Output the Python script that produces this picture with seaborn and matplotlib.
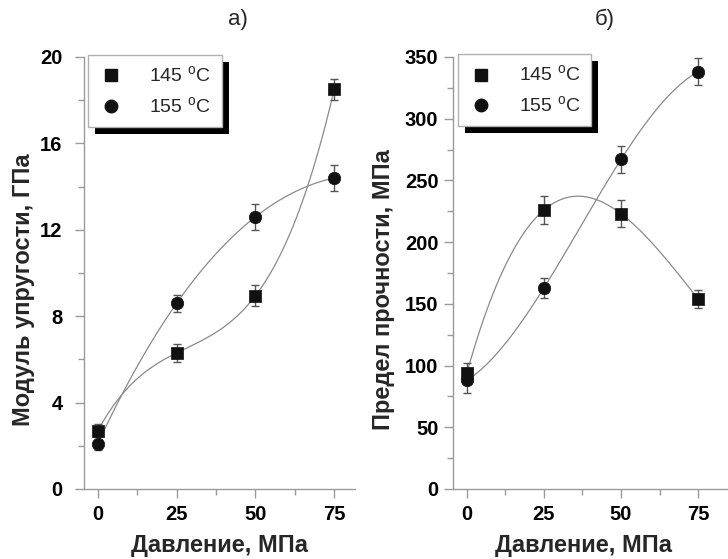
import numpy as np
import pandas as pd
import matplotlib
matplotlib.use("Agg")
import matplotlib.pyplot as plt
import seaborn as sns
from matplotlib.lines import Line2D
from matplotlib.patches import Rectangle
from matplotlib.ticker import MultipleLocator

# ---- data ----
pressure = [0, 25, 50, 75]
series_labels = ["145 $^{\\mathrm{o}}$C", "155 $^{\\mathrm{o}}$C"]

modulus_145 = [2.7, 6.3, 8.95, 18.5]
modulus_145_err = [0.3, 0.4, 0.5, 0.5]
modulus_155 = [2.1, 8.6, 12.6, 14.4]
modulus_155_err = [0.3, 0.4, 0.6, 0.6]

strength_145 = [94, 226, 223, 154]
strength_145_err = [8, 11, 11, 7]
strength_155 = [88, 163, 267, 338]
strength_155_err = [10, 8, 11, 11]

panel_titles = ["а)", "б)"]
x_label = "Давление, МПа"
y_labels = ["Модуль упругости, ГПа", "Предел прочности, МПа"]

sns.set_style("ticks")
plt.rcParams["font.family"] = ["Liberation Sans", "DejaVu Sans"]
plt.rcParams["mathtext.fontset"] = "custom"
plt.rcParams["mathtext.rm"] = "Liberation Sans"

fig = plt.figure(figsize=(7.28, 5.59), dpi=100)
W, H = 728, 559
ax1 = fig.add_axes([84 / W, 1 - 489 / H, (355 - 84) / W, (489 - 57) / H])
ax2 = fig.add_axes([453 / W, 1 - 489 / H, (728 - 453) / W, (489 - 57) / H])

spine_c = "#9a9a9a"
line_c = "#8a8a8a"
err_c = "#555555"

def draw_panel(ax, y145, e145, y155, e155, ylim, ymajor, xlim, ylabel, ypad,
               ylab_x, xlab_x, leg_anchor):
    for yv, ev, mk in [(y145, e145, "s"), (y155, e155, "o")]:
        df = pd.DataFrame({"x": pressure, "y": yv})
        sns.regplot(data=df, x="x", y="y", order=3, ci=None, scatter=False, ax=ax,
                    truncate=True, line_kws=dict(color=line_c, lw=0.9, zorder=2))
        ax.errorbar(pressure, yv, yerr=ev, fmt="none", ecolor=err_c, elinewidth=1,
                    capsize=3, capthick=1, zorder=3)
        sns.scatterplot(data=df, x="x", y="y", marker=mk, s=80, color="#111111",
                        edgecolor="#111111", linewidth=0.5, ax=ax, zorder=4)
    ax.set_xlim(*xlim)
    ax.set_ylim(*ylim)
    ax.xaxis.set_major_locator(MultipleLocator(25))
    ax.xaxis.set_minor_locator(MultipleLocator(12.5))
    ax.yaxis.set_major_locator(MultipleLocator(ymajor))
    ax.yaxis.set_minor_locator(MultipleLocator(ymajor / 2))
    for s in ["top", "right"]:
        ax.spines[s].set_visible(False)
    for s in ["left", "bottom"]:
        ax.spines[s].set_color(spine_c)
        ax.spines[s].set_linewidth(1)
    ax.tick_params(which="major", direction="out", length=6.5, width=1, color=spine_c,
                   labelsize=14.5, labelcolor="black")
    ax.tick_params(axis="x", which="major", pad=5)
    ax.tick_params(axis="y", which="major", pad=ypad)
    ax.tick_params(which="minor", direction="out", length=4, width=1, color=spine_c)
    for lab in ax.get_xticklabels() + ax.get_yticklabels():
        lab.set_fontweight("bold")
    ax.set_xlabel(x_label, fontsize=17, fontweight="bold")
    ax.set_ylabel(ylabel, fontsize=17, fontweight="bold")
    ax.xaxis.set_label_coords(xlab_x, -0.13)
    ax.yaxis.set_label_coords(ylab_x, 0.462)
    ax.xaxis.label.set_va("center")
    ax.yaxis.label.set_va("center")
    handles = [Line2D([], [], ls="none", marker="s", ms=8, color="#111111"),
               Line2D([], [], ls="none", marker="o", ms=9, color="#111111")]
    leg = ax.legend(handles, series_labels, loc="upper left", bbox_to_anchor=leg_anchor,
                    frameon=True, fancybox=False, framealpha=1, edgecolor="#b0b0b0",
                    fontsize=14, handletextpad=1.3, borderpad=0.55, labelspacing=0.5,
                    handlelength=1.3, borderaxespad=0)
    leg.get_frame().set_linewidth(1)
    leg.set_zorder(10)
    return leg

leg1 = draw_panel(ax1, modulus_145, modulus_145_err, modulus_155, modulus_155_err,
                  (0, 20), 4, (-4.4, 81.6), y_labels[0], 9, -0.225, 0.5, (0.015, 1.005))
leg2 = draw_panel(ax2, strength_145, strength_145_err, strength_155, strength_155_err,
                  (0, 350), 50, (-4.5, 84.7), y_labels[1], 4, -0.2545, 0.476, (0.018, 1.007))

fig.text(238 / W, 1 - 19 / H, panel_titles[0], ha="center", va="center", fontsize=16)
fig.text(605 / W, 1 - 19 / H, panel_titles[1], ha="center", va="center", fontsize=16)

fig.canvas.draw()
for ax, leg in [(ax1, leg1), (ax2, leg2)]:
    bb = leg.get_window_extent()
    rect = Rectangle((bb.x0 + 7, bb.y0 - 7), bb.width, bb.height, transform=None,
                     facecolor="black", edgecolor="none", zorder=9, clip_on=False)
    ax.add_artist(rect)

fig.savefig("out.png", dpi=100)
